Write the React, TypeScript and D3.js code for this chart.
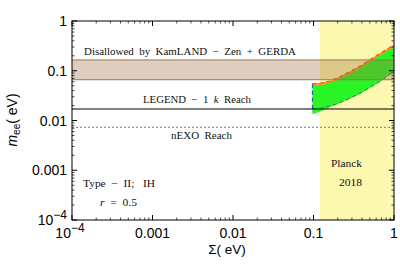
import React from 'react';
import * as d3 from 'd3';

// axis decades
const sigmaTicks = [1e-4, 1e-3, 1e-2, 1e-1, 1];
const sigmaLabels = ['10^-4', '0.001', '0.01', '0.1', '1'];
const meeTicks = [1e-4, 1e-3, 1e-2, 1e-1, 1];
const meeLabels = ['10^-4', '0.001', '0.01', '0.1', '1'];

// limits / reaches (eV)
const kamlandBand = [0.066, 0.165];
const legendReach = 0.017;
const nexoReach = 0.0073;
const planckSigma = 0.12;

// IH allowed region, r = 0.5
const upperEdge: [number, number][] = [
  [0.097, 0.055], [0.12, 0.056], [0.16, 0.062], [0.2, 0.072], [0.284, 0.096],
  [0.4, 0.13], [0.5, 0.166], [0.7, 0.232], [1, 0.33],
];
const lowerDashed: [number, number][] = [
  [0.097, 0.017], [0.12, 0.0175], [0.16, 0.0196], [0.2, 0.022], [0.284, 0.028],
  [0.4, 0.037], [0.5, 0.046], [0.7, 0.064], [1, 0.097],
];
const lowerFill: [number, number][] = [
  [0.097, 0.0135], [0.105, 0.0138], [0.12, 0.015], [0.16, 0.0185], [0.2, 0.0215],
  [0.284, 0.0275], [0.4, 0.036], [0.5, 0.045], [0.7, 0.063], [1, 0.095],
];

const margin = { top: 21, right: 6, bottom: 49, left: 72 };
const W = 400, H = 269;

function Label({ text, x, y, anchor }: { text: string; x: number; y: number; anchor: string }) {
  if (text.startsWith('10^')) {
    return (
      <text x={x} y={y} textAnchor={anchor} fontSize={14}>
        10<tspan dy={-6} fontSize={12}>{text.slice(3).replace('-', '\u2212')}</tspan>
      </text>
    );
  }
  return <text x={x} y={y} textAnchor={anchor} fontSize={14}>{text}</text>;
}

export default function App() {
  const x = d3.scaleLog().domain([1e-4, 1]).range([margin.left, W - margin.right]);
  const y = d3.scaleLog().domain([1e-4, 1]).range([H - margin.bottom, margin.top]);
  const [x0, x1] = x.range();
  const [y0, y1] = [y(1), y(1e-4)];

  const minorX: number[] = [];
  const minorY: number[] = [];
  for (let e = -4; e < 0; e++) {
    for (let k = 2; k <= 9; k++) {
      minorX.push(k * Math.pow(10, e));
      minorY.push(k * Math.pow(10, e));
    }
  }

  const line = d3.line<[number, number]>().x(d => x(d[0])).y(d => y(d[1]));
  const greenPath = line([...upperEdge, ...lowerFill.slice().reverse()]) + 'Z';
  const orangeInner = upperEdge.map(d => [d[0], d[1] * 0.9] as [number, number]);
  const orangePath = line([...upperEdge, ...orangeInner.slice().reverse()]) + 'Z';

  const serif = 'Liberation Serif, DejaVu Serif, serif';

  return (
    <svg width={W} height={H} style={{ position: 'absolute', left: 0, top: 0, background: '#fff' }}
      fontFamily="Liberation Sans, Arial, sans-serif">
      <defs>
        <clipPath id="plot"><rect x={x0} y={y0} width={x1 - x0} height={y1 - y0} /></clipPath>
      </defs>
      <g clipPath="url(#plot)">
        <rect x={x(planckSigma)} y={y0} width={x1 - x(planckSigma)} height={y1 - y0} fill="#fdf8b0" />
        <path d={greenPath} fill="#2af524" />
        <path d={orangePath} fill="#f7961e" />
        <path d={line(upperEdge) || ''} fill="none" stroke="#e0602a" strokeWidth={1.2} strokeDasharray="4,3" />
        <path d={line(lowerDashed) || ''} fill="none" stroke="#2a7a6a" strokeWidth={1} strokeDasharray="4,3" />
        <line x1={x(upperEdge[0][0])} x2={x(upperEdge[0][0])} y1={y(upperEdge[0][1])} y2={y(lowerFill[0][1]) - 2}
          stroke="#2a5ab0" strokeWidth={1.2} strokeDasharray="4,3" />
        <rect x={x0} y={y(kamlandBand[1])} width={x1 - x0} height={y(kamlandBand[0]) - y(kamlandBand[1])}
          fill="#9c6a3e" fillOpacity={0.33} />
        <line x1={x0} x2={x1} y1={y(kamlandBand[1])} y2={y(kamlandBand[1])} stroke="#9a7456" strokeWidth={1} />
        <line x1={x0} x2={x1} y1={y(kamlandBand[0])} y2={y(kamlandBand[0])} stroke="#9a7456" strokeWidth={1} />
        <line x1={x0} x2={x1} y1={y(legendReach)} y2={y(legendReach)} stroke="#000" strokeWidth={1.1} />
        <line x1={x0} x2={x1} y1={y(nexoReach)} y2={y(nexoReach)} stroke="#777" strokeWidth={1} strokeDasharray="2,2" />
      </g>

      {/* frame and ticks */}
      <rect x={x0} y={y0} width={x1 - x0} height={y1 - y0} fill="none" stroke="#000" strokeWidth={1} />
      {sigmaTicks.map(t => (
        <g key={'xt' + t}>
          <line x1={x(t)} x2={x(t)} y1={y1} y2={y1 - 5} stroke="#000" />
          <line x1={x(t)} x2={x(t)} y1={y0} y2={y0 + 5} stroke="#000" />
        </g>
      ))}
      {minorX.map(t => (
        <g key={'xm' + t}>
          <line x1={x(t)} x2={x(t)} y1={y1} y2={y1 - 2.5} stroke="#000" strokeWidth={0.7} />
          <line x1={x(t)} x2={x(t)} y1={y0} y2={y0 + 2.5} stroke="#000" strokeWidth={0.7} />
        </g>
      ))}
      {meeTicks.map(t => (
        <g key={'yt' + t}>
          <line x1={x0} x2={x0 + 5} y1={y(t)} y2={y(t)} stroke="#000" />
          <line x1={x1} x2={x1 - 5} y1={y(t)} y2={y(t)} stroke="#000" />
        </g>
      ))}
      {minorY.map(t => (
        <g key={'ym' + t}>
          <line x1={x0} x2={x0 + 2.5} y1={y(t)} y2={y(t)} stroke="#000" strokeWidth={0.7} />
          <line x1={x1} x2={x1 - 2.5} y1={y(t)} y2={y(t)} stroke="#000" strokeWidth={0.7} />
        </g>
      ))}

      {/* tick labels */}
      {sigmaTicks.map((t, i) => (
        <Label key={'xl' + t} text={sigmaLabels[i]} x={x(t) + (i === 0 ? -2 : 0)} y={y1 + 18} anchor="middle" />
      ))}
      {meeTicks.map((t, i) => (
        <Label key={'yl' + t} text={meeLabels[i]} x={x0 - 5} y={y(t) + 5} anchor="end" />
      ))}

      {/* axis titles */}
      <text x={227} y={254} textAnchor="middle" fontSize={13.5}>{'\u03A3( eV)'}</text>
      <text transform="translate(17,120) rotate(-90)" textAnchor="middle" fontSize={14}>
        <tspan fontStyle="italic">m</tspan><tspan fontSize={10} dy={3}>ee</tspan><tspan dy={-3}>( eV)</tspan>
      </text>

      {/* annotations */}
      <g fontFamily={serif} fontSize={10.5} fill="#111">
        <text xmlSpace="preserve" x={84} y={55} textLength={212} lengthAdjust="spacingAndGlyphs">
          {'Disallowed  by  KamLAND  \u2212  Zen  +  GERDA'}
        </text>
        <text xmlSpace="preserve" x={143} y={103} textLength={108} lengthAdjust="spacingAndGlyphs">
          {'LEGEND  \u2212  1  '}<tspan fontStyle="italic">k</tspan>{'  Reach'}
        </text>
        <text xmlSpace="preserve" x={171} y={139} textLength={61} lengthAdjust="spacingAndGlyphs">{'nEXO  Reach'}</text>
        <text xmlSpace="preserve" x={83} y={187} textLength={72} lengthAdjust="spacingAndGlyphs">{'Type  \u2212  II;   IH'}</text>
        <text xmlSpace="preserve" x={100} y={206} textLength={37} lengthAdjust="spacingAndGlyphs">
          <tspan fontStyle="italic">r</tspan>{'  =  0.5'}
        </text>
        <text x={331} y={167} textLength={31} lengthAdjust="spacingAndGlyphs">Planck</text>
        <text x={339} y={186} textLength={23} lengthAdjust="spacingAndGlyphs">2018</text>
      </g>
    </svg>
  );
}
